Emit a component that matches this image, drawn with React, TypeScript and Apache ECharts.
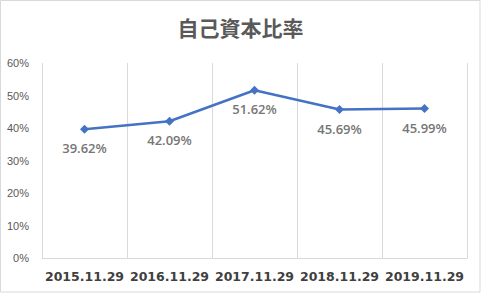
import React, { useEffect, useRef } from "react";
import * as echarts from "echarts";

const categories = ["2015.11.29", "2016.11.29", "2017.11.29", "2018.11.29", "2019.11.29"];
const ratioValues = [39.62, 42.09, 51.62, 45.69, 45.99];
const yTicks = [0, 10, 20, 30, 40, 50, 60];

export default function App() {
  const ref = useRef<HTMLDivElement>(null);
  useEffect(() => {
    if (!ref.current) return;
    const chart = echarts.init(ref.current, undefined, { renderer: "svg" });
    chart.setOption({
      animation: false,
      backgroundColor: "#ffffff",
      title: {
        text: "自己資本比率",
        left: "center",
        top: 11,
        textStyle: {
          fontFamily: "Noto Sans CJK JP",
          fontSize: 21,
          fontWeight: "bold",
          color: "#595959",
        },
      },
      grid: { left: 42, right: 14, top: 63, bottom: 35 },
      xAxis: {
        type: "category",
        data: categories,
        boundaryGap: true,
        axisLine: { lineStyle: { color: "#d9d9d9", width: 1 } },
        axisTick: { show: false },
        splitLine: { show: true, interval: 0, lineStyle: { color: "#d9d9d9", width: 1 } },
        axisLabel: {
          interval: 0,
          margin: 12,
          fontFamily: "DejaVu Sans",
          fontWeight: "bold",
          fontSize: 12.5,
          color: "#404040",
        },
      },
      yAxis: {
        type: "value",
        min: yTicks[0],
        max: yTicks[yTicks.length - 1],
        interval: 10,
        axisLine: { show: false },
        axisTick: { show: false },
        splitLine: { show: false },
        axisLabel: {
          margin: 13,
          fontFamily: "Liberation Sans",
          fontSize: 11,
          color: "#595959",
          formatter: (v: number) => v + "%",
        },
      },
      series: [
        {
          type: "line",
          data: ratioValues,
          symbol: "diamond",
          symbolSize: 9,
          lineStyle: { color: "#4472C4", width: 2.5 },
          itemStyle: { color: "#4472C4" },
          label: {
            show: true,
            position: "bottom",
            distance: 8,
            fontFamily: "Open Sans",
            fontWeight: 600,
            fontSize: 13,
            color: "#767676",
            formatter: (p: any) => p.value.toFixed(2) + "%",
          },
        },
      ],
      graphic: [
        {
          type: "rect",
          shape: { x: 0.5, y: 0.5, width: 479.5, height: 291.5 },
          style: { fill: "none", stroke: "#d9d9d9", lineWidth: 1 },
          silent: true,
        },
      ],
    });
    return () => chart.dispose();
  }, []);
  return (
    <div
      ref={ref}
      style={{ position: "absolute", left: 0, top: 0, width: 481, height: 293 }}
    />
  );
}
